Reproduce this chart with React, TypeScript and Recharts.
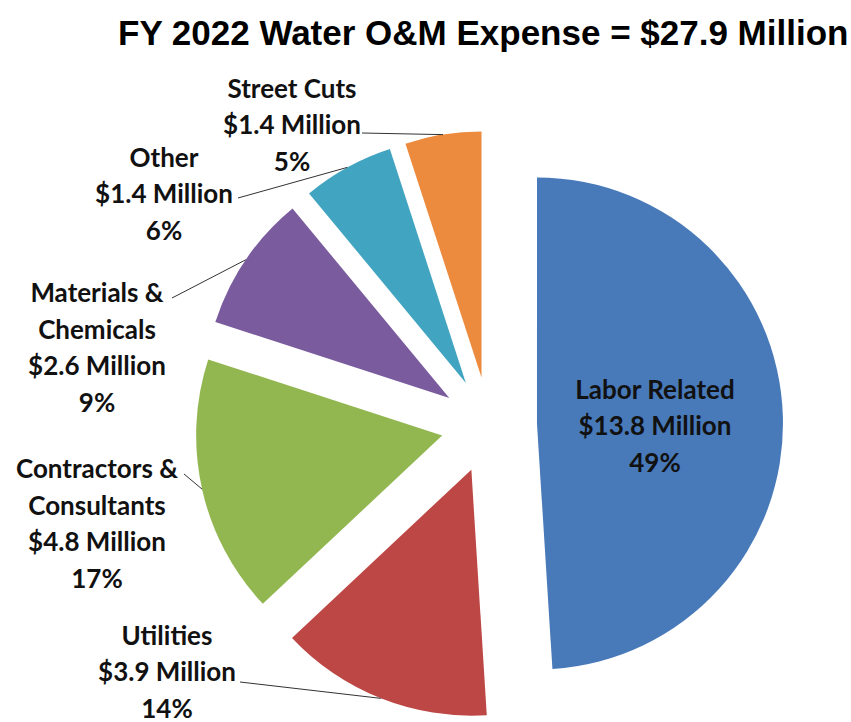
// FY 2022 Water O&M Expense - exploded pie chart
import { PieChart, Pie, Cell, Sector } from 'recharts'

// Slices go clockwise from 12 o'clock, as in the original
const categories = [
  'Labor Related',
  'Utilities',
  'Contractors & Consultants',
  'Materials & Chemicals',
  'Other',
  'Street Cuts',
]
const amounts = [13.8, 3.9, 4.8, 2.6, 1.4, 1.4] // $ Million
const shares = [49, 14, 17, 9, 6, 5] // percent of total
const nameLines = [
  ['Labor Related'],
  ['Utilities'],
  ['Contractors &', 'Consultants'],
  ['Materials &', 'Chemicals'],
  ['Other'],
  ['Street Cuts'],
]
const colors = ['#4879b9', '#bc4744', '#92b650', '#7a5c9e', '#41a4c0', '#ec8a3d']

const chartData = categories.map((name, i) => ({
  name,
  amount: amounts[i],
  share: shares[i],
}))

// Where each label block sits, relative to the pie centre,
// and where its leader line starts (null = label inside slice)
const labelOffsets: [number, number][] = [
  [166, 0],
  [-322, 246],
  [-392, 98],
  [-392, -78],
  [-325, -232],
  [-197, -301],
]
const leaderStarts: ([number, number] | null)[] = [
  null,
  [-249, 257],
  [-305, 49],
  [-317, -127],
  [-251, -227],
  [-127, -292],
]

const RAD = Math.PI / 180
const EXPLODE = 48
const LINE_GAP = 36.5
const LABEL_FONT = 'Lato, "Noto Sans", sans-serif'

// each slice pushed out along its own mid angle
const ExplodedSector = (props: any) => {
  const { cx, cy, midAngle, innerRadius, outerRadius, startAngle, endAngle, fill } = props
  const dx = EXPLODE * Math.cos(-midAngle * RAD)
  const dy = EXPLODE * Math.sin(-midAngle * RAD)
  return (
    <Sector
      cx={cx + dx}
      cy={cy + dy}
      innerRadius={innerRadius}
      outerRadius={outerRadius}
      startAngle={startAngle}
      endAngle={endAngle}
      fill={fill}
      stroke="none"
    />
  )
}

const renderLabel = (props: any) => {
  const { cx, cy, midAngle, outerRadius, index } = props
  const lines = [
    ...nameLines[index],
    `$${amounts[index].toFixed(1)} Million`,
    `${shares[index]}%`,
  ]
  const [ox, oy] = labelOffsets[index]
  const x = cx + ox
  const yMid = cy + oy
  const start = leaderStarts[index]
  const r = outerRadius + EXPLODE
  const ex = cx + r * Math.cos(-midAngle * RAD)
  const ey = cy + r * Math.sin(-midAngle * RAD)

  return (
    <g key={`label-${index}`}>
      {start && (
        <line
          x1={cx + start[0]}
          y1={cy + start[1]}
          x2={ex}
          y2={ey}
          stroke="#333"
          strokeWidth={1}
        />
      )}
      {lines.map((t, k) => (
        <text
          key={k}
          x={x}
          y={yMid + (k - (lines.length - 1) / 2) * LINE_GAP}
          textAnchor="middle"
          dominantBaseline="central"
          fontFamily={LABEL_FONT}
          fontWeight={700}
          fontSize={26}
          fill="#111"
        >
          {t}
        </text>
      ))}
    </g>
  )
}

export default function App() {
  return (
    <div style={{ position: 'absolute', left: 0, top: 0, width: 851, height: 722, background: '#fff' }}>
      <svg width={851} height={60} style={{ position: 'absolute', left: 0, top: 0 }}>
        <text
          x={118}
          y={45}
          fontFamily='"Liberation Sans", Arial, sans-serif'
          fontWeight={700}
          fontSize={35}
          fill="#000"
        >
          FY 2022 Water O&amp;M Expense = $27.9 Million
        </text>
      </svg>
      <div style={{ position: 'absolute', left: 0, top: 0 }}>
        <PieChart width={851} height={722} margin={{ top: 0, right: 0, bottom: 0, left: 0 }}>
          <Pie
            data={chartData}
            dataKey="share"
            nameKey="name"
            cx={489}
            cy={425}
            outerRadius={246}
            startAngle={90}
            endAngle={-270}
            stroke="none"
            shape={ExplodedSector}
            label={renderLabel}
            labelLine={false}
            isAnimationActive={false}
          >
            {chartData.map((d, i) => (
              <Cell key={d.name} fill={colors[i]} />
            ))}
          </Pie>
        </PieChart>
      </div>
    </div>
  )
}
